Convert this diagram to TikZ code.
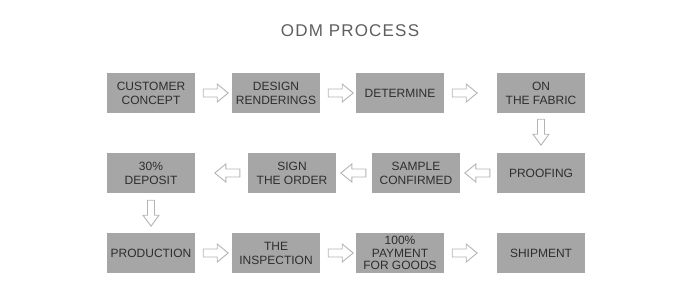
\documentclass[tikz,border=0pt]{standalone}
\usepackage{fontspec}
\setmainfont{Liberation Sans}
\newfontfamily\titlefont[LetterSpace=7]{Liberation Sans}
\definecolor{boxfill}{HTML}{A6A6A6}
\definecolor{boxtext}{HTML}{2E2E2E}
\definecolor{arrline}{HTML}{B4B4B4}
\definecolor{titlecol}{HTML}{5E5E5E}
\begin{document}
\begin{tikzpicture}[x=1pt,y=-1pt,
  stepbox/.style={fill=boxfill,minimum width=88pt,minimum height=40pt,inner sep=0pt,
    align=center,text=boxtext,font=\fontsize{12}{14}\selectfont},
  arr/.style={draw=arrline,line width=0.9pt,fill=white,line join=miter},
  rarrow/.pic={\draw[arr] (0,-4) -- (14,-4) -- (14,-9) -- (25,0) -- (14,9) -- (14,4) -- (0,4) -- cycle;},
  larrow/.pic={\draw[arr] (0,-4) -- (-14,-4) -- (-14,-9) -- (-25,0) -- (-14,9) -- (-14,4) -- (0,4) -- cycle;},
  darrow/.pic={\draw[arr] (-3.5,0) -- (-3.5,15) -- (-8,15) -- (0,26) -- (8,15) -- (3.5,15) -- (3.5,0) -- cycle;}
]
\useasboundingbox (0,0) rectangle (700,305);
\node[text=titlecol,font=\titlefont\fontsize{17}{20}\selectfont,inner sep=0pt] (title) at (350,31) {ODM PROCESS};
% row 1
\node[stepbox] (a1) at (151,93) {CUSTOMER\\CONCEPT};
\node[stepbox] (a2) at (276,93) {DESIGN\\RENDERINGS};
\node[stepbox] (a3) at (400,93) {DETERMINE};
\node[stepbox] (a4) at (541,93) {ON\\THE FABRIC};
% row 2
\node[stepbox] (b4) at (541,173) {PROOFING};
\node[stepbox] (b3) at (416,173) {SAMPLE\\CONFIRMED};
\node[stepbox] (b2) at (292,173) {SIGN\\THE ORDER};
\node[stepbox] (b1) at (151,173) {30\%\\DEPOSIT};
% row 3
\node[stepbox] (c1) at (151,253) {PRODUCTION};
\node[stepbox] (c2) at (276,253) {THE\\INSPECTION};
\node[stepbox,font=\fontsize{12}{12.5}\selectfont] (c3) at (400,253) {100\%\\PAYMENT\\FOR GOODS};
\node[stepbox] (c4) at (541,253) {SHIPMENT};
% arrows row 1
\pic at ([xshift=8pt]a1.east) {rarrow};
\pic at ([xshift=8pt]a2.east) {rarrow};
\pic at ([xshift=8pt]a3.east) {rarrow};
\pic at ([yshift=-6pt]a4.south) {darrow};
% arrows row 2
\pic at ([xshift=-7pt]b4.west) {larrow};
\pic at ([xshift=-6pt]b3.west) {larrow};
\pic at ([xshift=-8pt]b2.west) {larrow};
\pic at ([yshift=-7pt]b1.south) {darrow};
% arrows row 3
\pic at ([xshift=8pt]c1.east) {rarrow};
\pic at ([xshift=8pt]c2.east) {rarrow};
\pic at ([xshift=8pt]c3.east) {rarrow};
\end{tikzpicture}
\end{document}
